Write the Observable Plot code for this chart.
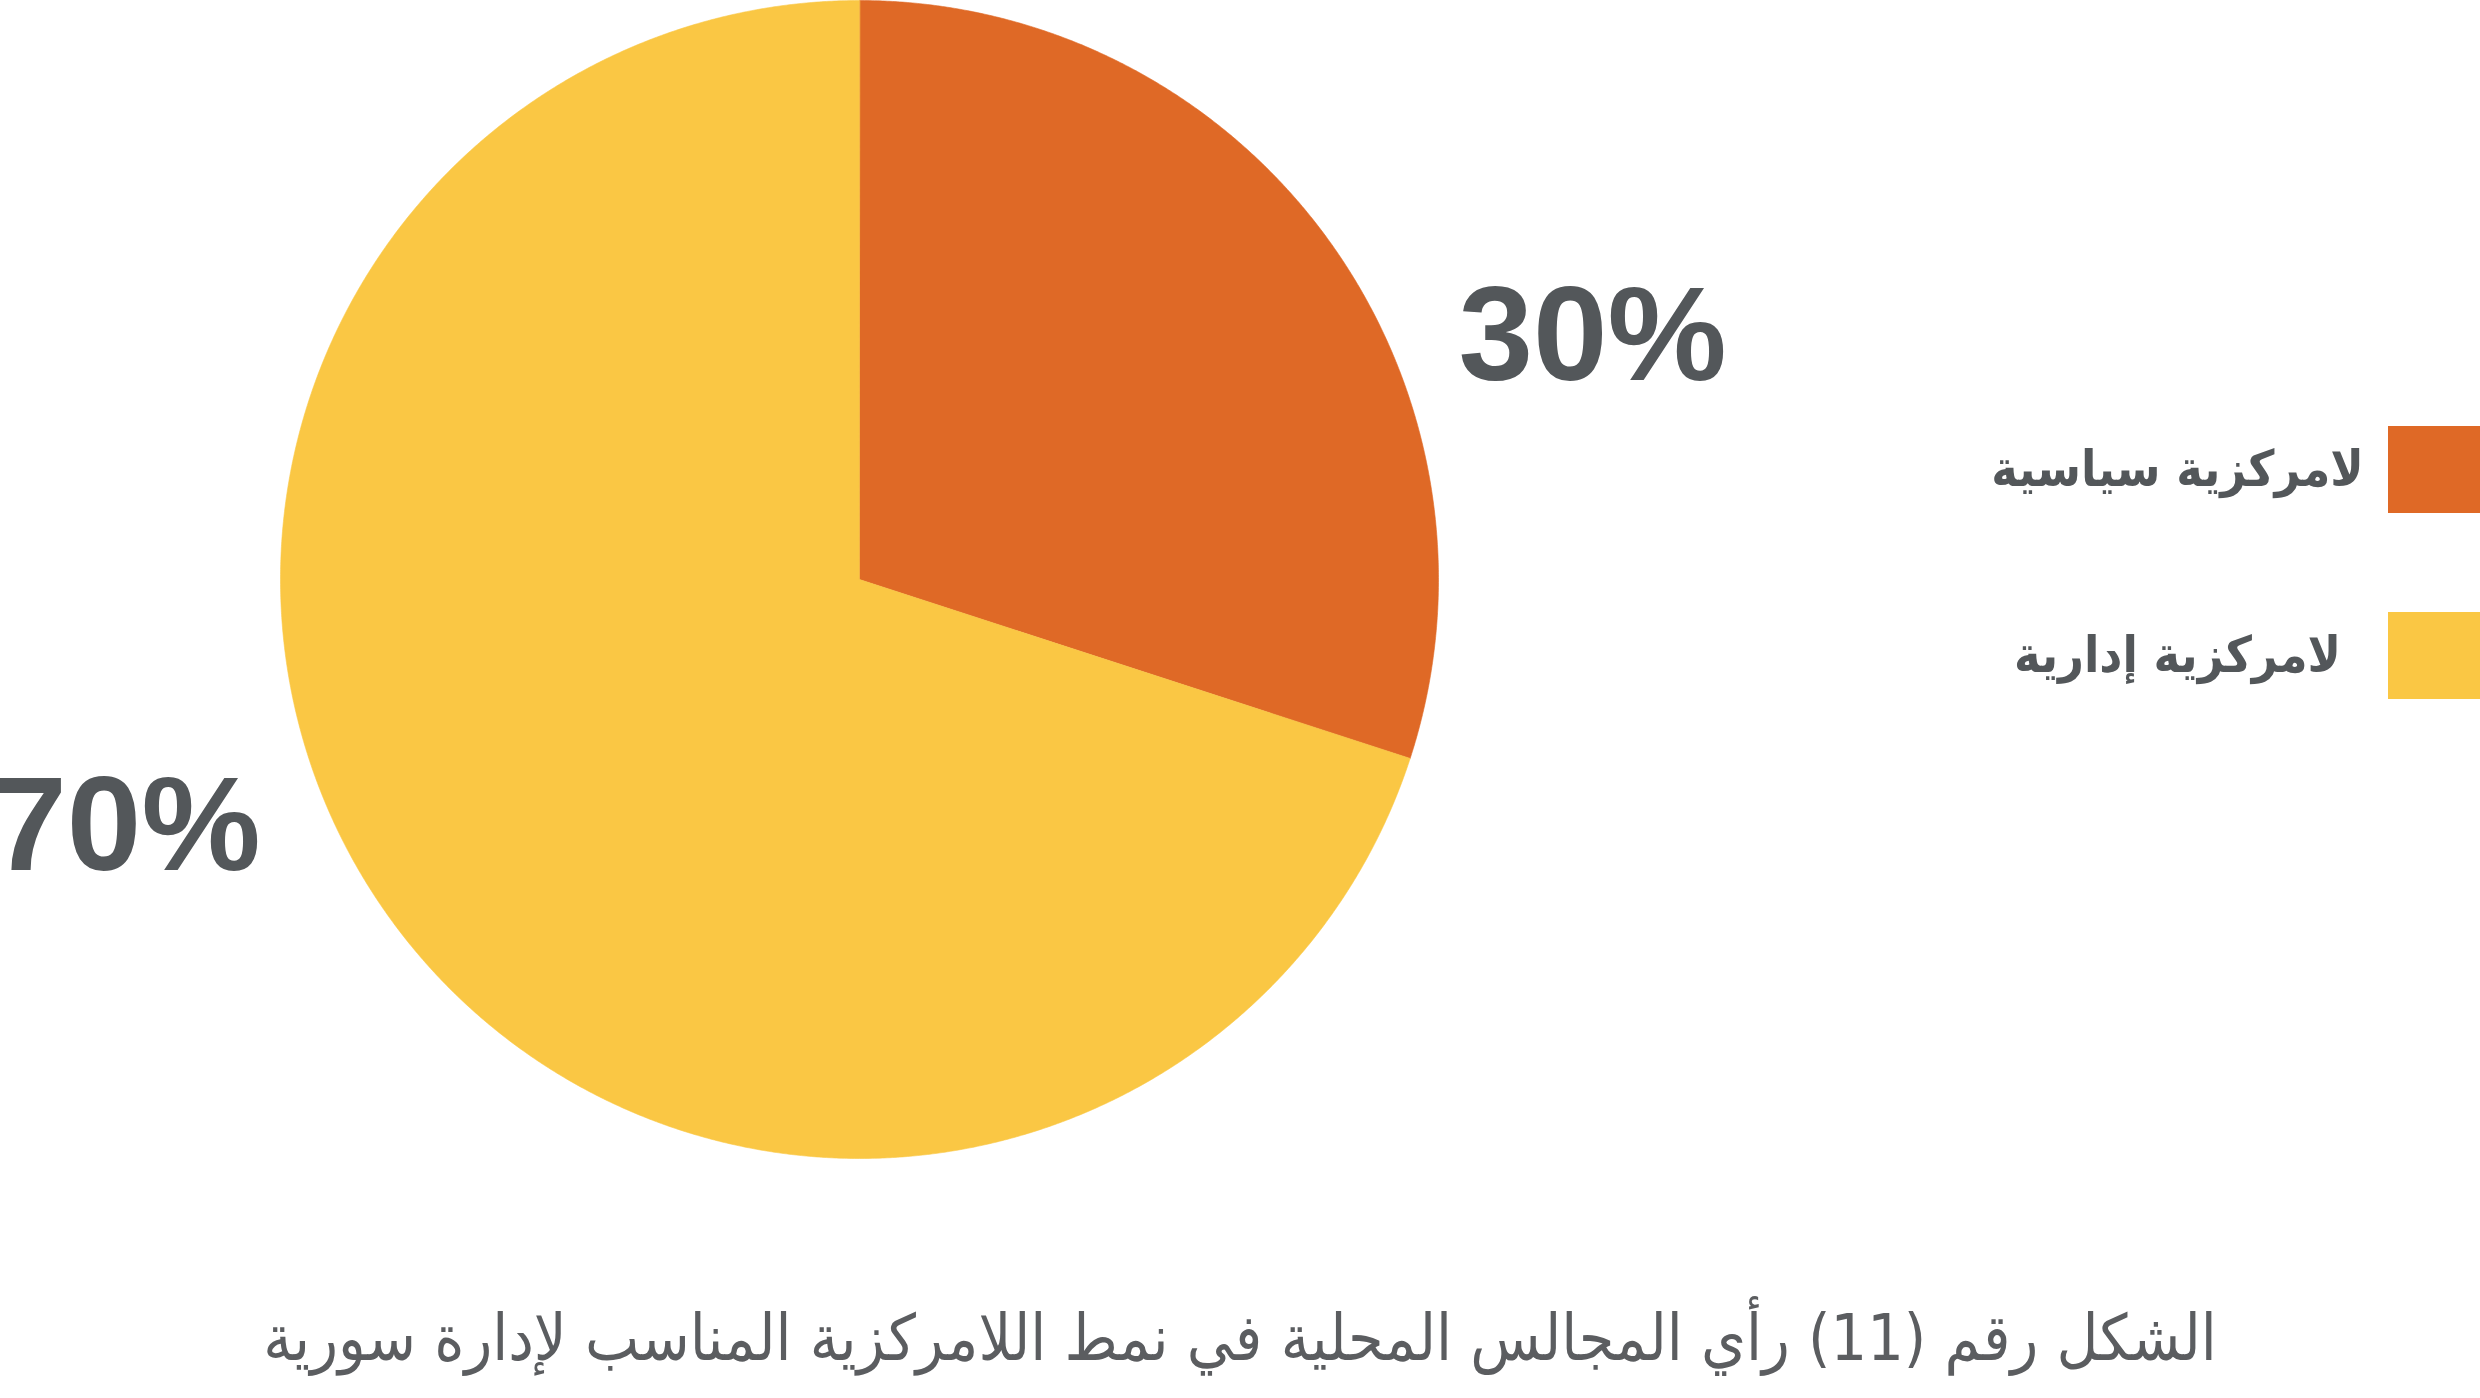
<!DOCTYPE html>
<html lang="ar">
<head>
<meta charset="utf-8">
<script src="https://cdn.jsdelivr.net/npm/d3@7"></script>
<script src="https://cdn.jsdelivr.net/npm/@observablehq/plot@0.6"></script>
<style>
  html, body { margin: 0; padding: 0; background: #ffffff; overflow: hidden; }
  #chart figure { margin: 0; }
  #chart figcaption {
    direction: rtl;
    text-align: center;
    font-family: "DejaVu Sans Condensed", "DejaVu Sans", sans-serif;
    font-weight: 200;
    font-size: 64px;
    line-height: 80px;
    color: #5b5d60;
    margin-top: 28px;
  }
</style>
</head>
<body>
<div id="chart"></div>
<script>
// ---- data ----
const categories = ["لامركزية سياسية", "لامركزية إدارية"];
const values = [30, 70];
const valueLabels = ["30%", "70%"];
const colors = ["#DF6926", "#FAC744"];
const captionText = "الشكل رقم (11) رأي المجالس المحلية في نمط اللامركزية المناسب لإدارة سورية";

// ---- layout ----
const W = 2480, H = 1270;
const cx = 859, cy = 579, R = 579;
const textColor = "#53575A";

const table = categories.map((c, i) => ({category: c, value: values[i], label: valueLabels[i]}));
const arcs = d3.pie().sort(null).value(d => d.value)(table);

// polygon points for each slice (angle 0 at top, clockwise)
const slicePts = [];
for (const a of arcs) {
  slicePts.push({category: a.data.category, x: cx, y: cy});
  const n = Math.max(8, Math.ceil((a.endAngle - a.startAngle) / (Math.PI / 720)));
  for (let k = 0; k <= n; k++) {
    const t = a.startAngle + (a.endAngle - a.startAngle) * k / n;
    slicePts.push({category: a.data.category, x: cx + R * Math.sin(t), y: cy - R * Math.cos(t)});
  }
}

// percentage labels, placed outside along each slice's mid direction
const labelPts = arcs.map(a => {
  const m = (a.startAngle + a.endAngle) / 2;
  return {label: a.data.label, x: cx + 1.565 * R * Math.sin(m), y: cy - 0.72 * R * Math.cos(m) + 3};
});

// legend
const legX = 2388, legY0 = 426, legStep = 186, legSize = 87;
const legend = categories.map((c, i) => ({
  category: c,
  x1: legX, x2: W, y1: legY0 + i * legStep, y2: legY0 + i * legStep + legSize,
  tx: 2177, ty: legY0 + i * legStep + legSize / 2
}));

const chart = Plot.plot({
  width: W,
  height: H,
  margin: 0,
  x: {domain: [0, W], range: [0, W], axis: null},
  y: {domain: [0, H], range: [0, H], axis: null},
  color: {domain: categories, range: colors},
  caption: captionText,
  marks: [
    Plot.line(slicePts, {x: "x", y: "y", z: "category", fill: "category", stroke: "category", strokeWidth: 0.6, curve: "linear-closed"}),
    Plot.text(labelPts, {x: "x", y: "y", text: "label", fontSize: 134, fontWeight: 700, fontFamily: "Liberation Sans, Arial, sans-serif", fill: textColor, textAnchor: "middle"}),
    Plot.rect(legend, {x1: "x1", x2: "x2", y1: "y1", y2: "y2", fill: "category"}),
    Plot.text(legend, {x: "tx", y: "ty", text: "category", textAnchor: "middle", fontSize: 50, fontWeight: 700, fontFamily: "DejaVu Sans Condensed, DejaVu Sans, sans-serif", fill: textColor})
  ]
});
document.getElementById("chart").appendChild(chart);
</script>
</body>
</html>
